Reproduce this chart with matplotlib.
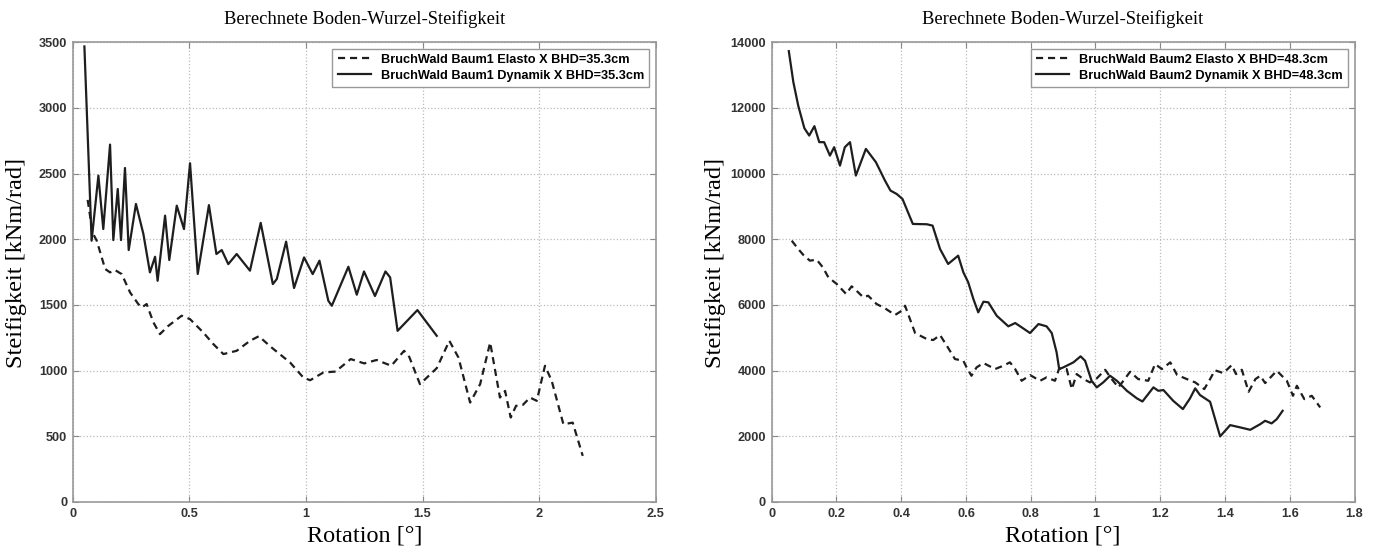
import matplotlib.pyplot as plt

plt.close("all")

# Baum1 (left panel)
x_b1_elasto = [0.064, 0.085, 0.103, 0.139, 0.160, 0.181, 0.210, 0.246, 0.281, 0.296, 0.317, 0.346,
               0.374, 0.410, 0.467, 0.503, 0.560, 0.603, 0.646, 0.703, 0.760, 0.798, 0.850, 0.932,
               0.989, 1.018, 1.075, 1.127, 1.192, 1.250, 1.303, 1.366, 1.421, 1.443, 1.489, 1.561,
               1.615, 1.654, 1.704, 1.747, 1.790, 1.832, 1.854, 1.878, 1.901, 1.930, 1.961, 1.990,
               2.025, 2.054, 2.104, 2.144, 2.187]
y_b1_elasto = [2300, 2050, 1989, 1774, 1748, 1766, 1735, 1595, 1507, 1481, 1507, 1367,
               1278, 1341, 1418, 1392, 1290, 1202, 1126, 1151, 1227, 1262, 1180, 1062,
               947, 927, 986, 993, 1088, 1055, 1081, 1037, 1151, 1105, 897, 1019,
               1227, 1100, 757, 897, 1214, 795, 846, 643, 732, 739, 795, 770,
               1037, 922, 592, 604, 351]

x_b1_dyn = [0.050, 0.081, 0.110, 0.131, 0.160, 0.174, 0.193, 0.207, 0.224, 0.240, 0.271, 0.303,
            0.331, 0.353, 0.364, 0.396, 0.414, 0.446, 0.477, 0.503, 0.536, 0.584, 0.616, 0.639,
            0.667, 0.703, 0.760, 0.806, 0.858, 0.875, 0.915, 0.949, 0.992, 1.029, 1.058, 1.096,
            1.111, 1.182, 1.218, 1.249, 1.296, 1.341, 1.361, 1.393, 1.478, 1.561]
y_b1_dyn = [3468, 1989, 2485, 2078, 2721, 1994, 2383, 1994, 2543, 1918, 2269, 2040,
            1748, 1867, 1684, 2180, 1842, 2256, 2078, 2579, 1736, 2260, 1888, 1918,
            1811, 1888, 1761, 2125, 1659, 1697, 1982, 1629, 1862, 1735, 1837, 1532,
            1494, 1791, 1578, 1755, 1568, 1755, 1710, 1303, 1461, 1265]

# Baum2 (right panel)
x_b2_elasto = [0.062, 0.082, 0.098, 0.118, 0.139, 0.158, 0.175, 0.201, 0.230, 0.247, 0.262, 0.283,
               0.298, 0.324, 0.350, 0.381, 0.402, 0.412, 0.443, 0.479, 0.499, 0.520, 0.541, 0.566,
               0.592, 0.602, 0.617, 0.633, 0.654, 0.690, 0.715, 0.736, 0.752, 0.772, 0.798, 0.829,
               0.849, 0.875, 0.888, 0.911, 0.927, 0.942, 0.963, 0.983, 1.004, 1.030, 1.050, 1.071,
               1.107, 1.132, 1.163, 1.184, 1.205, 1.231, 1.252, 1.282, 1.308, 1.336, 1.354, 1.369,
               1.395, 1.421, 1.434, 1.452, 1.473, 1.494, 1.509, 1.524, 1.560, 1.591, 1.610, 1.622,
               1.645, 1.668, 1.694]
y_b2_elasto = [7958, 7705, 7522, 7349, 7379, 7148, 6843, 6639, 6334, 6568, 6434, 6233,
               6282, 6029, 5898, 5694, 5825, 5977, 5145, 4962, 4932, 5084, 4758, 4353,
               4301, 4100, 3844, 4100, 4231, 4048, 4148, 4252, 4048, 3691, 3865, 3691,
               3795, 3691, 4069, 4048, 3438, 3895, 3743, 3642, 3764, 4026, 3743, 3490,
               3966, 3743, 3691, 4200, 4048, 4252, 3870, 3743, 3642, 3438, 3743, 4010,
               3926, 4170, 3895, 4026, 3356, 3743, 3844, 3621, 3996, 3691, 3234, 3539,
               3133, 3234, 2880]

x_b2_dyn = [0.053, 0.067, 0.082, 0.101, 0.116, 0.132, 0.147, 0.162, 0.180, 0.193, 0.211, 0.226,
            0.242, 0.260, 0.291, 0.322, 0.350, 0.367, 0.386, 0.404, 0.436, 0.479, 0.497, 0.520,
            0.545, 0.576, 0.592, 0.607, 0.623, 0.638, 0.654, 0.669, 0.695, 0.731, 0.752, 0.772,
            0.798, 0.824, 0.849, 0.865, 0.880, 0.888, 0.901, 0.932, 0.954, 0.968, 0.988, 1.004,
            1.024, 1.045, 1.066, 1.097, 1.128, 1.145, 1.179, 1.194, 1.210, 1.240, 1.270, 1.292,
            1.308, 1.323, 1.354, 1.385, 1.416, 1.447, 1.478, 1.509, 1.524, 1.544, 1.560, 1.578]
y_b2_dyn = [13730, 12787, 12073, 11384, 11159, 11445, 10958, 10958, 10549, 10805, 10244, 10805,
            10958, 9940, 10753, 10348, 9787, 9483, 9381, 9229, 8467, 8458, 8416, 7705,
            7248, 7501, 6995, 6690, 6181, 5776, 6099, 6081, 5672, 5349, 5450, 5319,
            5145, 5419, 5349, 5145, 4557, 4048, 4100, 4252, 4435, 4301, 3691, 3490,
            3642, 3844, 3691, 3386, 3155, 3060, 3490, 3386, 3408, 3082, 2829, 3155,
            3460, 3255, 3052, 1997, 2341, 2271, 2198, 2371, 2472, 2393, 2524, 2777]

title = "Berechnete Boden-Wurzel-Steifigkeit"
xlabel = "Rotation [°]"
ylabel = "Steifigkeit [kNm/rad]"

panels = [
    dict(pos=[0.0529, 0.0939, 0.424, 0.8298],
         xe=x_b1_elasto, ye=y_b1_elasto, xd=x_b1_dyn, yd=y_b1_dyn,
         lab_e="BruchWald Baum1 Elasto X BHD=35.3cm",
         lab_d="BruchWald Baum1 Dynamik X BHD=35.3cm",
         xticks=[0, 0.5, 1, 1.5, 2, 2.5], xlabels=["0", "0.5", "1", "1.5", "2", "2.5"],
         yticks=list(range(0, 3501, 500)), xlim=(0, 2.5), ylim=(0, 3500)),
    dict(pos=[0.5612, 0.0939, 0.4239, 0.8298],
         xe=x_b2_elasto, ye=y_b2_elasto, xd=x_b2_dyn, yd=y_b2_dyn,
         lab_e="BruchWald Baum2 Elasto X BHD=48.3cm",
         lab_d="BruchWald Baum2 Dynamik X BHD=48.3cm",
         xticks=[0, 0.2, 0.4, 0.6, 0.8, 1, 1.2, 1.4, 1.6, 1.8],
         xlabels=["0", "0.2", "0.4", "0.6", "0.8", "1", "1.2", "1.4", "1.6", "1.8"],
         yticks=list(range(0, 14001, 2000)), xlim=(0, 1.8), ylim=(0, 14000)),
]

fig = plt.figure(figsize=(13.75, 5.54), dpi=100)

for p in panels:
    ax = fig.add_axes(p["pos"])
    ax.plot(p["xe"], p["ye"], color="#1e1e1e", lw=1.6, linestyle=(0, (3.2, 2.2)), label=p["lab_e"])
    ax.plot(p["xd"], p["yd"], color="#1e1e1e", lw=1.6, linestyle="-", label=p["lab_d"])
    ax.set_xlim(*p["xlim"])
    ax.set_ylim(*p["ylim"])
    ax.set_xticks(p["xticks"])
    ax.set_xticklabels(p["xlabels"])
    ax.set_yticks(p["yticks"])
    ax.set_yticklabels([str(v) for v in p["yticks"]])
    for lab in ax.get_xticklabels() + ax.get_yticklabels():
        lab.set_fontfamily("Liberation Sans")
        lab.set_fontweight("bold")
        lab.set_fontsize(9.2)
        lab.set_color("#333333")
    ax.tick_params(direction="in", length=4, color="#888888", top=True, right=True, pad=4)
    ax.grid(True, linestyle=":", color="#bbbbbb", linewidth=0.9)
    for s in ax.spines.values():
        s.set_color("#999999")
        s.set_linewidth(1.2)
    ax.set_title(title, fontfamily="Liberation Serif", fontsize=13.4, pad=13)
    ax.set_xlabel(xlabel, fontfamily="Liberation Serif", fontsize=17.5, labelpad=4)
    ax.set_ylabel(ylabel, fontfamily="Liberation Serif", fontsize=17.5)
    ax.yaxis.set_label_coords(-0.078, 0.52)
    leg = ax.legend(loc="upper right", prop={"family": "Liberation Sans", "weight": "bold", "size": 9.2},
                    fancybox=False, framealpha=1, edgecolor="#999999", handlelength=2.6,
                    borderaxespad=0.5, labelspacing=0.3)
    leg.get_frame().set_linewidth(1.0)

fig.savefig("out.png", dpi=100)
